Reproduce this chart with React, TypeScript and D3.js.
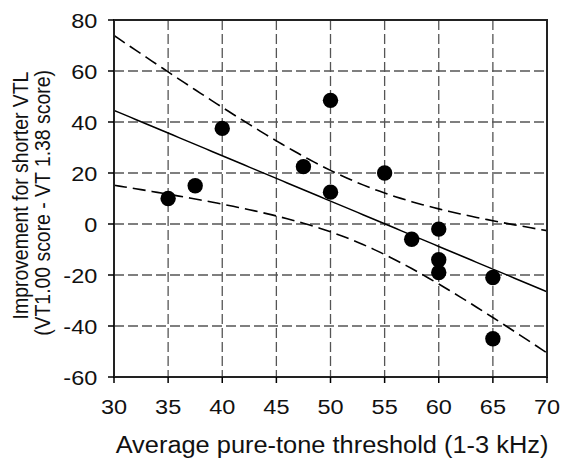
import React from "react";
import * as d3 from "d3";

const xValues = [35, 37.5, 40, 47.5, 50, 50, 55, 57.5, 60, 60, 60, 65, 65];
const yValues = [10, 15, 37.5, 22.5, 48.5, 12.5, 20, -6, -2, -14, -19, -21, -45];
const xTicks = [30, 35, 40, 45, 50, 55, 60, 65, 70];
const yTicks = [80, 60, 40, 20, 0, -20, -40, -60];
const tCrit = 2.201; // t(0.975, df=11)

const W = 561, H = 459;
const M = { left: 114, right: 14, top: 20, bottom: 82 };
const SX = 1.12;

export default function App() {
  const x = d3.scaleLinear().domain([30, 70]).range([M.left, W - M.right]);
  const y = d3.scaleLinear().domain([-60, 80]).range([H - M.bottom, M.top]);

  const n = xValues.length;
  const mx = d3.mean(xValues)!;
  const my = d3.mean(yValues)!;
  const sxx = d3.sum(xValues, (v) => (v - mx) ** 2);
  const sxy = d3.sum(xValues.map((v, i) => (v - mx) * (yValues[i] - my)));
  const b = sxy / sxx;
  const a = my - b * mx;
  const sse = d3.sum(xValues.map((v, i) => (yValues[i] - (a + b * v)) ** 2));
  const s = Math.sqrt(sse / (n - 2));
  const xs = d3.range(30, 70.001, 0.5);
  const half = (xv: number) => tCrit * s * Math.sqrt(1 / n + (xv - mx) ** 2 / sxx);
  const line = d3.line<[number, number]>().x((d) => x(d[0])).y((d) => y(d[1]));
  const fit = line(xs.map((v) => [v, a + b * v]))!;
  const upper = line(xs.map((v) => [v, a + b * v + half(v)]))!;
  const lower = line(xs.map((v) => [v, a + b * v - half(v)]))!;

  const x0 = x(30), x1 = x(70), y0 = y(-60), y1 = y(80);
  const font = "'Liberation Sans', Arial, sans-serif";

  return (
    <svg width={W} height={H} style={{ position: "absolute", left: 0, top: 0, background: "#fff" }} fontFamily={font}>
      <defs>
        <clipPath id="plot">
          <rect x={x0} y={y1} width={x1 - x0} height={y0 - y1} />
        </clipPath>
      </defs>
      {/* grid */}
      {xTicks.slice(1, -1).map((t) => (
        <line key={"gx" + t} x1={x(t)} x2={x(t)} y1={y1} y2={y0} stroke="#555" strokeWidth={1.3} strokeDasharray="10,4" />
      ))}
      {yTicks.slice(1, -1).map((t) => (
        <line key={"gy" + t} x1={x0} x2={x1} y1={y(t)} y2={y(t)} stroke="#555" strokeWidth={1.3} strokeDasharray="10,4" />
      ))}
      {/* regression and CI */}
      <g clipPath="url(#plot)" fill="none" stroke="#000">
        <path d={fit} strokeWidth={1.5} />
        <path d={upper} strokeWidth={1.6} strokeDasharray="13,6" />
        <path d={lower} strokeWidth={1.6} strokeDasharray="13,6" />
      </g>
      {/* points */}
      {xValues.map((v, i) => (
        <circle key={i} cx={x(v)} cy={y(yValues[i])} r={7.7} fill="#000" />
      ))}
      {/* frame */}
      <rect x={x0} y={y1} width={x1 - x0} height={y0 - y1} fill="none" stroke="#222" strokeWidth={2} />
      {/* ticks */}
      {xTicks.map((t) => (
        <g key={"xt" + t}>
          <line x1={x(t)} x2={x(t)} y1={y0} y2={y0 + 6} stroke="#000" strokeWidth={1.5} />
          <text transform={`translate(${x(t)}, ${y0 + 37}) scale(${SX},1)`} textAnchor="middle" fontSize={21} fill="#111">{t}</text>
        </g>
      ))}
      {yTicks.map((t) => (
        <g key={"yt" + t}>
          <line x1={x0 - 6} x2={x0} y1={y(t)} y2={y(t)} stroke="#000" strokeWidth={1.5} />
          <text transform={`translate(${x0 - 16.7}, ${y(t) + 7.7}) scale(${SX},1)`} textAnchor="end" fontSize={21} fill="#111">{t}</text>
        </g>
      ))}
      {/* titles */}
      <text transform={`translate(332, 453) scale(1.09,1)`} textAnchor="middle" fontSize={23.3} fill="#111">
        Average pure-tone threshold (1-3 kHz)
      </text>
      <text transform={`translate(27.5, 195.5) rotate(-90) scale(1,1.1)`} textAnchor="middle" fontSize={19.4} fill="#111">
        Improvement for shorter VTL
      </text>
      <text transform={`translate(50, 203) rotate(-90) scale(1,1.1)`} textAnchor="middle" fontSize={19.4} fill="#111">
        (VT1.00 score - VT 1.38 score)
      </text>
    </svg>
  );
}
